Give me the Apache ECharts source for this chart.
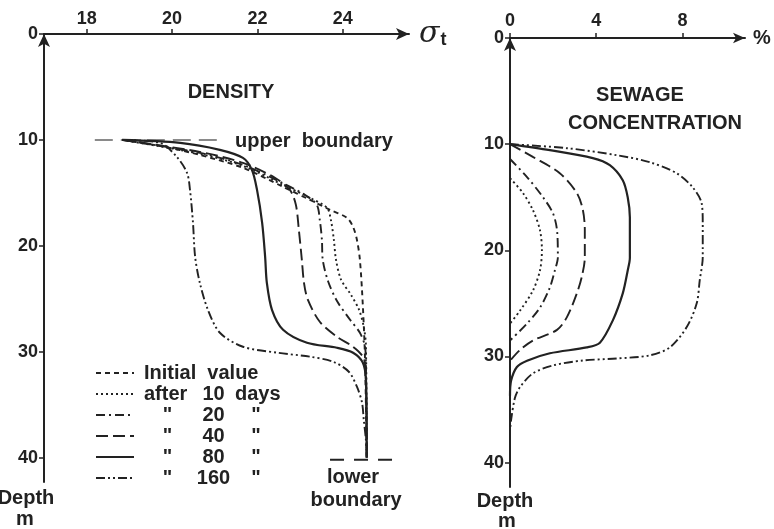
<!DOCTYPE html>
<html>
<head>
<meta charset="utf-8">
<script src="https://cdn.jsdelivr.net/npm/echarts@6/dist/echarts.min.js"></script>
<style>
  html, body { margin: 0; background: #fff; }
  #chart { width: 774px; height: 529px; }
</style>
</head>
<body>
<div id="chart"></div>
<script>
// tick values
const densityTicks = [18, 20, 22, 24]
const sewageTicks = [0, 4, 8]
const depthTicks = [0, 10, 20, 30, 40]

// density profiles: [sigma-t, depth m]
const rhoInitial = [[18.83,10],[19.72,10.57],[20.65,11.42],[21.66,12.64],[22.60,14.43],[23.23,15.66],[23.70,16.6],[24.10,17.36],[24.24,18.21],[24.33,19.43],[24.40,21.32],[24.47,25.75],[24.52,30.75],[24.56,40]]
const rho10 = [[18.83,10],[20.65,11.32],[21.66,12.45],[22.60,14.25],[23.23,15.47],[23.63,16.42],[23.72,17.55],[23.79,19.43],[23.84,21.32],[23.96,23.21],[24.19,24.62],[24.38,26.04],[24.49,27.64],[24.54,29.34],[24.56,40]]
const rho20 = [[18.83,10],[20.65,11.23],[21.66,12.36],[22.53,13.96],[23.11,15.19],[23.39,16.13],[23.46,17.55],[23.51,19.43],[23.53,21.32],[23.65,23.30],[23.86,25.19],[24.17,26.98],[24.40,28.21],[24.52,29.53],[24.54,31.23],[24.56,40]]
const rho40 = [[18.83,10],[20.65,11.13],[21.66,12.17],[22.41,13.58],[22.76,14.72],[22.90,16.13],[22.97,18.49],[23.04,21.32],[23.09,23.49],[23.18,25.09],[23.46,27.17],[23.86,28.58],[24.24,29.53],[24.47,30.47],[24.54,31.70],[24.56,40]]
const rho80 = [[18.83,10],[20.19,10.28],[21.12,10.94],[21.66,11.70],[21.87,12.83],[21.99,14.72],[22.11,17.83],[22.18,21.04],[22.22,23.49],[22.34,26.04],[22.60,27.92],[23.16,29.15],[23.86,29.62],[24.24,30.09],[24.47,31.04],[24.54,32.64],[24.56,40]]
const rho160 = [[18.83,10],[19.72,10.28],[20.11,11.60],[20.35,13.11],[20.42,14.72],[20.49,17.83],[20.54,21.04],[20.65,23.49],[20.84,26.04],[21.12,28.21],[21.66,29.53],[22.46,30.09],[23.23,30.47],[23.77,30.94],[24.14,31.89],[24.33,33.30],[24.45,34.81],[24.49,36.42],[24.54,38.3],[24.56,40]]

// boundaries drawn in the density panel
const upperBoundary = [[18.19,10],[21.15,10]]
const lowerBoundary = [[23.70,40.2],[25.34,40.2]]

// sewage concentration: [%, depth m]
const sew10 = [[0,13.2],[0.60,14.6],[1.06,16.2],[1.39,18.1],[1.48,20.0],[1.39,21.9],[1.06,23.8],[0.46,25.7],[0,26.9]]
const sew20 = [[0,11.4],[0.79,13.1],[1.53,15.0],[1.99,16.5],[2.18,18.1],[2.22,20.66],[2.08,21.9],[1.85,23.5],[1.39,25.4],[0.79,26.9],[0,28.5]]
const sew40 = [[0,10],[1.06,11.2],[2.31,12.74],[3.10,14.6],[3.38,16.2],[3.47,18.1],[3.47,20.7],[3.33,22.5],[3.10,24.06],[2.64,26.3],[2.18,27.5],[1.06,28.5],[0.46,29.4],[0,30.4]]
const sew80 = [[0,10],[1.85,10.57],[3.84,11.32],[4.63,11.98],[5.23,13.4],[5.46,15.0],[5.56,16.9],[5.56,20.7],[5.46,21.9],[5.23,24.06],[4.77,26.6],[4.17,28.7],[3.56,29.15],[1.85,29.7],[0.79,30.4],[0.32,31.0],[0.05,32.3],[0,33.7]]
const sew160 = [[0,10],[2.64,10.38],[4.95,11.04],[6.48,11.70],[7.73,12.74],[8.47,14.06],[8.89,15.57],[8.94,17.45],[8.94,20.66],[8.80,22.83],[8.66,25.0],[8.19,27.26],[7.41,29.15],[6.48,29.9],[4.95,30.19],[3.38,30.38],[1.99,30.85],[1.06,31.6],[0.46,32.9],[0.23,33.9],[0.05,36.0],[0,37]]

const names = ['Initial value', 'after 10 days', '20 days', '40 days', '80 days', '160 days']

const ink = '#222'
const font = 'Liberation Sans, Arial, sans-serif'

const dash = {
  'Initial value': [5, 4],
  'after 10 days': [2, 3],
  '20 days': [9, 4, 2, 4],
  '40 days': [12, 5],
  '80 days': 'solid',
  '160 days': [9, 3, 2, 3, 2, 3],
}

function curve(name, data, idx) {
  return {
    name, type: 'line', data, xAxisIndex: idx, yAxisIndex: idx,
    symbol: 'none', smooth: 0.3, silent: true,
    itemStyle: { color: ink },
    lineStyle: { color: ink, width: name === '80 days' ? 2.2 : 1.9, type: dash[name] },
  }
}

function boundary(data, color, pattern) {
  return {
    type: 'line', data, xAxisIndex: 0, yAxisIndex: 0, symbol: 'none', silent: true,
    lineStyle: { color, width: 2, type: pattern },
  }
}

const tickLabel = { color: ink, fontFamily: font, fontWeight: 'bold', fontSize: 18 }

function depthAxis(idx) {
  return {
    gridIndex: idx, type: 'value', inverse: true, min: 0, max: 42.3,
    axisLine: { show: true, onZero: false, symbol: ['none', 'arrow'], symbolSize: [9, 13], lineStyle: { color: ink, width: 2 } },
    axisTick: { show: true, customValues: depthTicks, length: 5, lineStyle: { color: ink, width: 1.5 } },
    axisLabel: { ...tickLabel, customValues: depthTicks, margin: 6 },
    splitLine: { show: false },
  }
}

function text(str, x, y, size, align) {
  return {
    type: 'text', x, y, silent: true,
    style: { text: str, fill: ink, font: `bold ${size}px ${font}`, align: align || 'center', verticalAlign: 'middle' },
  }
}

const legendFont = { fontFamily: font, fontWeight: 'bold', fontSize: 20, color: ink, lineHeight: 21 }

const chart = echarts.init(document.getElementById('chart'))

chart.setOption({
  backgroundColor: '#fff',
  animation: false,
  grid: [
    { left: 44, top: 34, width: 365, height: 448 },
    { left: 510, top: 38, width: 235, height: 449 },
  ],
  xAxis: [
    {
      gridIndex: 0, type: 'value', position: 'top', min: 17, max: 25.55,
      axisLine: { show: true, onZero: false, symbol: ['none', 'arrow'], symbolSize: [9, 13], lineStyle: { color: ink, width: 2 } },
      axisTick: { show: true, customValues: densityTicks, length: 5, lineStyle: { color: ink, width: 1.5 } },
      axisLabel: { ...tickLabel, customValues: densityTicks, margin: 6 },
      splitLine: { show: false },
      name: '{s|σ}{t|t}', nameLocation: 'end', nameGap: 10,
      nameTextStyle: {
        rich: {
          s: { fontFamily: 'DejaVu Serif', fontStyle: 'italic', fontSize: 30, color: ink },
          t: { fontFamily: font, fontWeight: 'bold', fontSize: 18, color: ink, padding: [12, 0, 0, 1] },
        },
      },
    },
    {
      gridIndex: 1, type: 'value', position: 'top', min: 0, max: 10.9,
      axisLine: { show: true, onZero: false, symbol: ['none', 'arrow'], symbolSize: [8, 12], lineStyle: { color: ink, width: 2 } },
      axisTick: { show: true, customValues: sewageTicks, length: 5, lineStyle: { color: ink, width: 1.5 } },
      axisLabel: { ...tickLabel, customValues: sewageTicks, margin: 8 },
      splitLine: { show: false },
      name: '%', nameLocation: 'end', nameGap: 8,
      nameTextStyle: { color: ink, fontFamily: font, fontWeight: 'bold', fontSize: 20 },
    },
  ],
  yAxis: [depthAxis(0), depthAxis(1)],
  legend: {
    data: names, orient: 'vertical', left: 95, top: 363, padding: 0,
    itemWidth: 38, itemHeight: 14, itemGap: 1, selectedMode: false,
    itemStyle: { color: 'transparent', borderColor: 'transparent', borderWidth: 0, opacity: 0 },
    textStyle: {
      color: ink, fontFamily: font, fontWeight: 'bold', fontSize: 20,
      rich: {
        i: { ...legendFont, padding: [0, 0, 0, 5] },
        a: { ...legendFont, width: 52, padding: [0, 0, 0, 5] },
        q: { ...legendFont, width: 57, align: 'center' },
        n: { ...legendFont, width: 35, align: 'right' },
        d: { ...legendFont, padding: [0, 0, 0, 4] },
        e: { ...legendFont, width: 50, align: 'center' },
      },
    },
    formatter: name => {
      if (name === 'Initial value') return '{i|Initial  value}'
      if (name === 'after 10 days') return '{a|after}{n|10}{d|days}'
      return '{q|"}{n|' + name.split(' ')[0] + '}{e|"}'
    },
  },
  graphic: [
    text('DENSITY', 231, 92, 20),
    text('upper  boundary', 235, 141, 20, 'left'),
    text('lower', 353, 477, 20),
    text('boundary', 356, 500, 20),
    text('SEWAGE', 640, 95, 20),
    text('CONCENTRATION', 655, 123, 20),
    text('Depth', 26, 498, 20),
    text('m', 25, 519, 20),
    text('Depth', 505, 501, 20),
    text('m', 507, 521, 20),
  ],
  series: [
    boundary(upperBoundary, '#8a8a8a', [18, 8]),
    boundary(lowerBoundary, ink, [14, 10]),
    curve('Initial value', rhoInitial, 0),
    curve('after 10 days', rho10, 0),
    curve('20 days', rho20, 0),
    curve('40 days', rho40, 0),
    curve('80 days', rho80, 0),
    curve('160 days', rho160, 0),
    curve('after 10 days', sew10, 1),
    curve('20 days', sew20, 1),
    curve('40 days', sew40, 1),
    curve('80 days', sew80, 1),
    curve('160 days', sew160, 1),
  ],
})
</script>
</body>
</html>
